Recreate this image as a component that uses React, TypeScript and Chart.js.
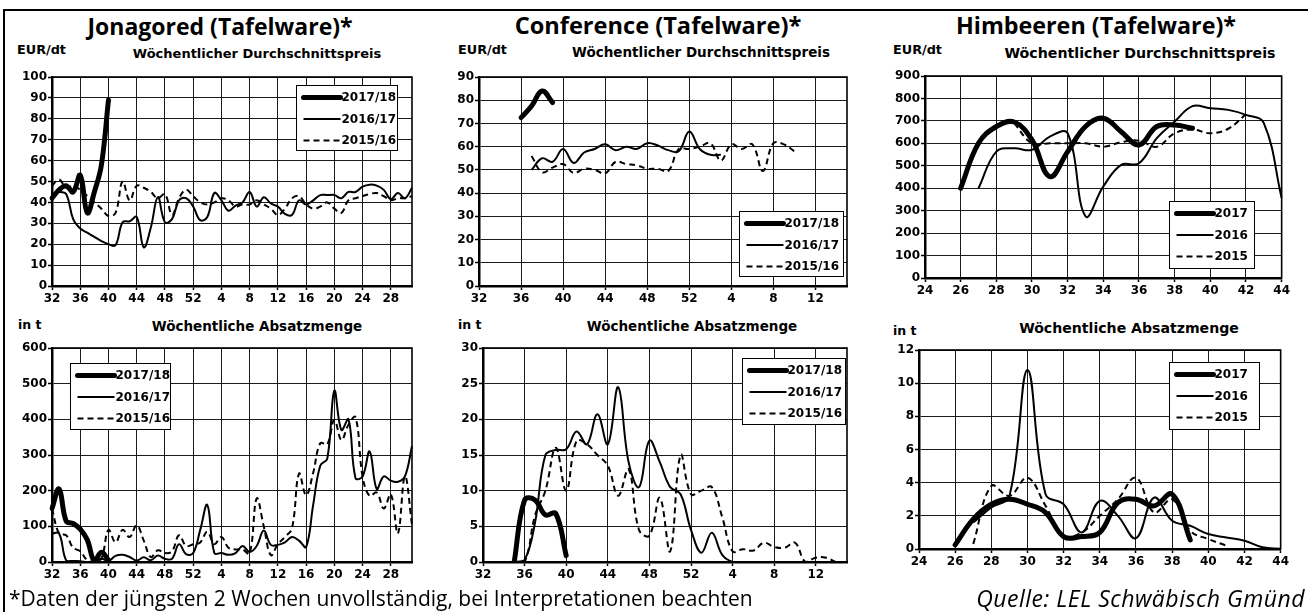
import React, { useEffect, useRef } from 'react';
import { Chart, registerables } from 'chart.js';

Chart.register(...registerables);

const FONT = "'DejaVu Sans', 'Liberation Sans', sans-serif";
const TITLE_FONT = "'Open Sans', 'DejaVu Sans', sans-serif";

// ---------------- categories (weeks) ----------------
const JONA_WEEKS = [32, 33, 34, 35, 36, 37, 38, 39, 40, 41, 42, 43, 44, 45, 46, 47, 48, 49, 50, 51, 52,
  1, 2, 3, 4, 5, 6, 7, 8, 9, 10, 11, 12, 13, 14, 15, 16, 17, 18, 19, 20, 21, 22, 23, 24, 25, 26, 27, 28, 29, 30, 31];
const CONF_WEEKS = [32, 33, 34, 35, 36, 37, 38, 39, 40, 41, 42, 43, 44, 45, 46, 47, 48, 49, 50, 51, 52,
  1, 2, 3, 4, 5, 6, 7, 8, 9, 10, 11, 12, 13, 14, 15];
const HIMB_WEEKS = [24, 25, 26, 27, 28, 29, 30, 31, 32, 33, 34, 35, 36, 37, 38, 39, 40, 41, 42, 43, 44];

// ---------------- tick labels ----------------
const JONA_TICKS = [32, 36, 40, 44, 48, 52, 4, 8, 12, 16, 20, 24, 28];
const CONF_TICKS = [32, 36, 40, 44, 48, 52, 4, 8, 12];
const HIMB_TICKS = [24, 26, 28, 30, 32, 34, 36, 38, 40, 42, 44];

const SEASONS_A = ['2017/18', '2016/17', '2015/16'];
const SEASONS_B = ['2017', '2016', '2015'];

// ---------------- Jonagored ----------------
const JONA_PRICE_1718 = [42, 46, 48, 45, 53, 35, 45, 58, 89];
const JONA_PRICE_1617 = [44, 45, 44, 32, 27.5, 25.5, 23.5, 21.5, 20, 19.5, 30.5, 31, 33, 18.5, 28, 42.5, 30.5, 32, 41, 42,
  38, 31.5, 33, 44.5, 41, 36, 38.5, 40, 45, 38, 42.5, 39.5, 38, 34.5, 34, 41, 39, 41, 43.5, 43.5,
  43.5, 42, 45, 45, 47.5, 48.5, 48, 46, 41.5, 44.5, 42, 47];
const JONA_PRICE_1516 = [48, 51, 47, 48, 46, 43, 40, 37, 33.5, 35, 50, 41, 48, 47, 45, 42, 44, 34, 42, 46,
  43, 40, 39, 40, 42, 41, 38, 39, 39, 41, 39, 37, 34, 37, 42, 43, 39, 37, 38, 40,
  37, 35, 41, 42, 43, 44, 44.5, 43, 41, 42, 42, 43];

const JONA_VOL_1718 = [150, 205, 115, 108, 92, 62, 3, 27, 5];
const JONA_VOL_1617 = [80, 80, 5, 3, 2, 0, 0, 9, 3, 17, 20, 14, 4, 13, 5, 18, 9, 9, 50, 22,
  25, 90, 160, 25, 25, 20, 25, 45, 28, 45, 88, 48, 48, 55, 70, 60, 42, 160, 270, 290,
  480, 370, 400, 235, 240, 310, 205, 240, 228, 225, 240, 325];
const JONA_VOL_1516 = [150, 80, 75, 40, 30, 5, 0, 10, 90, 55, 90, 70, 103, 60, 14, 33, 25, 30, 75, 45,
  50, 55, 85, 50, 70, 40, 35, 35, 23, 178, 100, 19, 50, 70, 95, 248, 187, 250, 333, 330,
  398, 342, 385, 406, 240, 185, 195, 150, 190, 80, 240, 105];

// ---------------- Conference ----------------
const CONF_PRICE_1718 = [null, null, null, null, 72.5, 77.5, 84, 79];
const CONF_PRICE_1617 = [null, null, null, null, null, 50, 55, 53.5, 59, 53, 57.5, 59, 61, 58.5, 60, 59, 61.5, 60.5, 58.5, 58,
  66.5, 59, 56.5, 56.5];
const CONF_PRICE_1516 = [null, null, null, null, null, 56, 49, 51, 52.5, 48.7, 50.5, 50, 48.5, 53.5, 52.5, 52, 50.5, 50.5, 49.5, 59,
  59, 60, 61.5, 54, 61, 59, 61, 49.5, 61.5, 61, 58];

const CONF_VOL_1718 = [null, null, null, 0, 8.7, 8.7, 6.6, 6.8, 0.9];
const CONF_VOL_1617 = [0, 0, 0, 0, 0.3, 5.5, 15, 15.7, 15.8, 18.3, 16.5, 20.7, 16.5, 24.5, 14, 10.5, 17, 14, 10.5, 9.5,
  4.5, 1.3, 4.1, 1, 0, 0, 0, 0, 0, 0, 0, 0, 0, 0, 0, 0];
const CONF_VOL_1516 = [0, 0, 0, 0, 0, 6.5, 10, 16, 10, 17, 16.5, 15, 13.5, 9.3, 13, 4.5, 3.7, 9, 1.5, 15,
  9.5, 10, 10.5, 6.3, 1.5, 1.8, 1.6, 2.7, 2.1, 2, 2.7, 0, 0.6, 0.6, 0, 0];

// ---------------- Himbeeren ----------------
const HIMB_PRICE_2017 = [null, null, 400, 600, 675, 695, 615, 452, 563, 675, 712, 652, 593, 675, 682, 667];
const HIMB_PRICE_2016 = [null, null, null, 400, 563, 578, 571, 630, 645, 275, 408, 504, 511, 623, 697, 766, 756, 749, 727, 690, 356];
const HIMB_PRICE_2015 = [null, null, null, null, null, 690, 600, 600, 600, 600, 585, 605, 612, 585, 645, 662, 645, 665, 730];

const HIMB_VOL_2017 = [null, null, 0.25, 1.8, 2.7, 3.0, 2.7, 2.2, 0.75, 0.75, 1.0, 2.8, 3.0, 2.6, 3.3, 0.55];
const HIMB_VOL_2016 = [null, null, null, 1.6, 2.5, 3.2, 10.8, 3.3, 2.7, 1.0, 2.9, 2.0, 0.65, 3.1, 1.7, 1.4, 0.9, 0.7, 0.5, 0.1, 0.02];
const HIMB_VOL_2015 = [null, null, null, 0.3, 3.8, 3.2, 4.3, 2.6, 0.8, 1.0, 2.0, 3.0, 4.3, 2.2, 3.0, 1.1, 0.6, 0.2];

// ---------------- layout ----------------
type Box = { L: number; R: number; T: number; B: number };
const PAD_TOP = 10;
const PAD_RIGHT = 10;
const Y_W = 44;
const X_H = 22;
const TICK_SIZE = 12;

const framePlugin = {
  id: 'plotFrame',
  beforeDatasetsDraw(chart: any) {
    const { ctx, chartArea: a } = chart;
    ctx.save();
    ctx.strokeStyle = '#000';
    ctx.lineWidth = 1.6;
    ctx.strokeRect(a.left, a.top, a.right - a.left, a.bottom - a.top);
    ctx.restore();
  },
};

const boxLegendPlugin = {
  id: 'boxLegend',
  afterDatasetsDraw(chart: any, _args: any, opts: any) {
    const { ctx, chartArea: a } = chart;
    const x = Math.round(a.left + opts.x) + 0.5;
    const y = Math.round(a.top + opts.y) + 0.5;
    ctx.save();
    ctx.fillStyle = '#fff';
    ctx.fillRect(x, y, opts.w, opts.h);
    ctx.lineWidth = 1;
    ctx.strokeStyle = '#000';
    ctx.setLineDash([]);
    ctx.strokeRect(x, y, opts.w, opts.h);
    ctx.font = `bold 12px ${FONT}`;
    ctx.textBaseline = 'middle';
    ctx.textAlign = 'left';
    chart.data.datasets.forEach((ds: any, i: number) => {
      const cy = y + 12 + i * 21.5;
      ctx.beginPath();
      ctx.lineWidth = ds.borderWidth;
      ctx.setLineDash(ds.borderDash || []);
      ctx.lineCap = ds.borderWidth > 3 ? 'round' : 'butt';
      ctx.strokeStyle = '#000';
      ctx.moveTo(x + 7, cy);
      ctx.lineTo(x + 44, cy);
      ctx.stroke();
      ctx.setLineDash([]);
      ctx.fillStyle = '#000';
      ctx.fillText(ds.label, x + 45, cy + 0.5);
    });
    ctx.restore();
  },
};

const STYLES = [
  { borderWidth: 5, borderDash: [] as number[], borderCapStyle: 'round' },
  { borderWidth: 2, borderDash: [] as number[], borderCapStyle: 'butt' },
  { borderWidth: 2, borderDash: [6, 4], borderCapStyle: 'butt' },
];

type PanelSpec = {
  box: Box;
  weeks: number[];
  ticks: number[];
  series: (number | null)[][];
  names: string[];
  yMax: number;
  yStep: number;
  legend: { x: number; y: number; w: number; h: number };
};

function makeConfig(p: PanelSpec): any {
  return {
    type: 'line',
    data: {
      labels: p.weeks.map(String),
      datasets: p.series.map((data, i) => ({
        label: p.names[i],
        data,
        borderColor: '#000',
        backgroundColor: '#000',
        borderWidth: STYLES[i].borderWidth,
        borderDash: STYLES[i].borderDash,
        borderCapStyle: STYLES[i].borderCapStyle,
        borderJoinStyle: 'round',
        pointRadius: 0,
        pointHoverRadius: 0,
        tension: 0.4,
        fill: false,
        spanGaps: false,
      })),
    },
    options: {
      animation: false,
      responsive: true,
      maintainAspectRatio: false,
      events: [],
      layout: { padding: { top: PAD_TOP, right: PAD_RIGHT, left: 0, bottom: 0 } },
      plugins: {
        legend: { display: false },
        tooltip: { enabled: false },
        title: { display: false },
        boxLegend: p.legend,
      },
      scales: {
        x: {
          type: 'category',
          offset: false,
          afterFit: (s: any) => { s.height = X_H; },
          grid: { color: '#1a1a1a', lineWidth: 1, drawTicks: true, tickLength: 4, tickColor: '#000', tickWidth: 1.5 },
          border: { color: '#000', width: 2.5 },
          ticks: {
            autoSkip: false,
            maxRotation: 0,
            minRotation: 0,
            padding: 2,
            color: '#000',
            font: { family: FONT, size: TICK_SIZE, weight: 'bold' },
            callback: (_v: any, idx: number) => (p.ticks.includes(p.weeks[idx]) ? String(p.weeks[idx]) : null),
          },
        },
        y: {
          type: 'linear',
          min: 0,
          max: p.yMax,
          afterFit: (s: any) => { s.width = Y_W; },
          grid: { color: '#1a1a1a', lineWidth: 1, drawTicks: true, tickLength: 4, tickColor: '#000', tickWidth: 1.5 },
          border: { color: '#000', width: 2.5 },
          ticks: {
            stepSize: p.yStep,
            padding: 1,
            color: '#000',
            font: { family: FONT, size: TICK_SIZE, weight: 'bold' },
          },
        },
      },
    },
    plugins: [framePlugin, boxLegendPlugin],
  };
}

function Panel({ spec }: { spec: PanelSpec }) {
  const ref = useRef<HTMLCanvasElement>(null);
  useEffect(() => {
    const chart = new Chart(ref.current as HTMLCanvasElement, makeConfig(spec));
    return () => chart.destroy();
  }, []);
  const b = spec.box;
  return (
    <div
      style={{
        position: 'absolute',
        left: b.L - Y_W,
        top: b.T - PAD_TOP,
        width: b.R - b.L + Y_W + PAD_RIGHT,
        height: b.B - b.T + PAD_TOP + X_H,
      }}
    >
      <canvas ref={ref} />
    </div>
  );
}

type TextProps = {
  x: number;
  y: number;
  size: number;
  align?: 'left' | 'center' | 'right';
  weight?: number | string;
  family?: string;
  italic?: boolean;
  spacing?: number;
  children: React.ReactNode;
};

function Label({ x, y, size, align = 'left', weight = 'bold', family = FONT, italic = false, spacing = 0, children }: TextProps) {
  const tx = align === 'center' ? '-50%' : align === 'right' ? '-100%' : '0';
  return (
    <div
      style={{
        position: 'absolute',
        left: x,
        top: y,
        transform: `translate(${tx}, -50%)`,
        fontFamily: family,
        fontSize: size,
        fontWeight: weight as any,
        fontStyle: italic ? 'italic' : 'normal',
        letterSpacing: spacing,
        lineHeight: 1,
        whiteSpace: 'nowrap',
        color: '#000',
      }}
    >
      {children}
    </div>
  );
}

const PANELS: PanelSpec[] = [
  {
    box: { L: 52, R: 412, T: 77, B: 286 }, weeks: JONA_WEEKS, ticks: JONA_TICKS,
    series: [JONA_PRICE_1718, JONA_PRICE_1617, JONA_PRICE_1516], names: SEASONS_A,
    yMax: 100, yStep: 10, legend: { x: 244, y: 8, w: 101, h: 65 },
  },
  {
    box: { L: 479, R: 847, T: 77, B: 286 }, weeks: CONF_WEEKS, ticks: CONF_TICKS,
    series: [CONF_PRICE_1718, CONF_PRICE_1617, CONF_PRICE_1516], names: SEASONS_A,
    yMax: 90, yStep: 10, legend: { x: 260, y: 134, w: 104, h: 65 },
  },
  {
    box: { L: 925, R: 1282, T: 76, B: 278 }, weeks: HIMB_WEEKS, ticks: HIMB_TICKS,
    series: [HIMB_PRICE_2017, HIMB_PRICE_2016, HIMB_PRICE_2015], names: SEASONS_B,
    yMax: 900, yStep: 100, legend: { x: 244, y: 125, w: 85, h: 67 },
  },
  {
    box: { L: 52, R: 412, T: 348, B: 562 }, weeks: JONA_WEEKS, ticks: JONA_TICKS,
    series: [JONA_VOL_1718, JONA_VOL_1617, JONA_VOL_1516], names: SEASONS_A,
    yMax: 600, yStep: 100, legend: { x: 18, y: 15, w: 100, h: 66 },
  },
  {
    box: { L: 483, R: 847, T: 348, B: 562 }, weeks: CONF_WEEKS, ticks: CONF_TICKS,
    series: [CONF_VOL_1718, CONF_VOL_1617, CONF_VOL_1516], names: SEASONS_A,
    yMax: 30, yStep: 5, legend: { x: 259, y: 10, w: 103, h: 66 },
  },
  {
    box: { L: 919, R: 1281, T: 350, B: 549 }, weeks: HIMB_WEEKS, ticks: HIMB_TICKS,
    series: [HIMB_VOL_2017, HIMB_VOL_2016, HIMB_VOL_2015], names: SEASONS_B,
    yMax: 12, yStep: 2, legend: { x: 250, y: 12, w: 90, h: 67 },
  },
];

export default function App() {
  return (
    <div style={{ position: 'absolute', left: 0, top: 0, width: 1308, height: 612, background: '#fff', overflow: 'hidden' }}>
      <div style={{ position: 'absolute', left: 3, top: 9, width: 1305, height: 2, background: '#000' }} />
      <div style={{ position: 'absolute', left: 3, top: 9, width: 2, height: 603, background: '#000' }} />

      <Label x={220} y={26} size={23} align="center" weight={700} family={TITLE_FONT}>Jonagored (Tafelware)*</Label>
      <Label x={658} y={26} size={23.6} align="center" weight={700} family={TITLE_FONT}>Conference (Tafelware)*</Label>
      <Label x={1096} y={26} size={23.3} align="center" weight={700} family={TITLE_FONT}>Himbeeren (Tafelware)*</Label>

      <Label x={17} y={50} size={12.8}>EUR/dt</Label>
      <Label x={458} y={50} size={12.8}>EUR/dt</Label>
      <Label x={893} y={50} size={12.8}>EUR/dt</Label>
      <Label x={257} y={53} size={13} align="center">Wöchentlicher Durchschnittspreis</Label>
      <Label x={701} y={53} size={13.5} align="center">Wöchentlicher Durchschnittspreis</Label>
      <Label x={1140} y={53} size={14.2} align="center">Wöchentlicher Durchschnittspreis</Label>

      <Label x={18} y={325} size={12.5}>in t</Label>
      <Label x={458} y={325} size={12.5}>in t</Label>
      <Label x={893} y={331} size={12.5}>in t</Label>
      <Label x={257} y={327} size={13.5} align="center">Wöchentliche Absatzmenge</Label>
      <Label x={692} y={327} size={13.5} align="center">Wöchentliche Absatzmenge</Label>
      <Label x={1129} y={328} size={14.1} align="center">Wöchentliche Absatzmenge</Label>

      {PANELS.map((p, i) => <Panel key={i} spec={p} />)}

      <Label x={9} y={598} size={21} weight={400} family={TITLE_FONT}>*Daten der jüngsten 2 Wochen unvollständig, bei Interpretationen beachten</Label>
      <Label x={1305} y={598} size={23} weight={400} family={TITLE_FONT} italic align="right" spacing={0.5}>Quelle: LEL Schwäbisch Gmünd</Label>
    </div>
  );
}
